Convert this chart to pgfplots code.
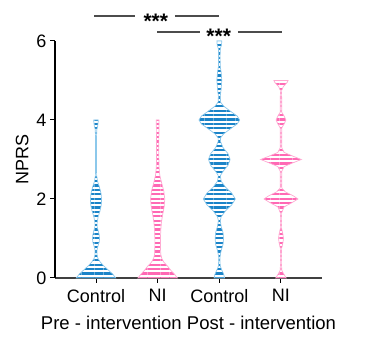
\documentclass[border=0pt]{standalone}
\usepackage{fontspec}
\setmainfont{Liberation Sans}
\usepackage{pgfplots}
\pgfplotsset{compat=1.18}
\usepackage{pgfplotstable}
\usepgfplotslibrary{fillbetween}
\usetikzlibrary{patterns.meta}
\definecolor{vblue}{RGB}{27,132,200}
\definecolor{vbluel}{RGB}{140,200,235}
\definecolor{vpink}{RGB}{255,105,180}
\definecolor{vpinkl}{RGB}{255,170,210}

\pgfplotstableread{
y w
0 0.32
0.1 0.27
0.2 0.2
0.3 0.13
0.4 0.07
0.5 0.03
0.6 0.015
0.7 0.015
0.8 0.03
0.9 0.05
1.0 0.058
1.1 0.05
1.2 0.035
1.3 0.018
1.4 0.018
1.55 0.035
1.7 0.065
1.85 0.085
2.0 0.09
2.15 0.08
2.3 0.055
2.45 0.025
2.6 0.01
3.0 0.008
3.5 0.008
3.75 0.012
3.85 0.028
3.95 0.035
4.0 0.035
}\vA

\pgfplotstableread{
y w
0 0.32
0.1 0.27
0.2 0.21
0.3 0.16
0.4 0.1
0.5 0.065
0.6 0.05
0.8 0.045
1.0 0.045
1.2 0.05
1.4 0.06
1.6 0.08
1.8 0.105
2.0 0.115
2.2 0.1
2.4 0.065
2.6 0.035
2.8 0.022
3.2 0.018
3.6 0.02
3.9 0.022
4.0 0.022
}\vB

\pgfplotstableread{
y w
0 0.085
0.1 0.07
0.2 0.04
0.3 0.015
0.45 0.01
0.55 0.012
0.7 0.03
0.85 0.06
1.0 0.068
1.15 0.06
1.3 0.03
1.45 0.015
1.55 0.03
1.7 0.1
1.85 0.2
2.0 0.26
2.15 0.2
2.3 0.1
2.45 0.03
2.55 0.02
2.6 0.02
2.7 0.06
2.85 0.14
3.0 0.175
3.15 0.14
3.3 0.06
3.45 0.02
3.55 0.02
3.65 0.07
3.8 0.2
3.9 0.29
4.0 0.33
4.1 0.29
4.2 0.2
4.35 0.07
4.45 0.02
4.6 0.015
4.8 0.03
5.0 0.04
5.2 0.03
5.35 0.015
5.6 0.012
5.8 0.015
5.9 0.035
6.0 0.04
}\vC

\pgfplotstableread{
y w
0 0.085
0.1 0.045
0.2 0.012
0.3 0.01
0.75 0.01
0.88 0.03
1.0 0.04
1.12 0.03
1.25 0.01
1.65 0.01
1.8 0.05
1.9 0.17
2.0 0.275
2.08 0.2
2.18 0.07
2.28 0.012
2.7 0.012
2.82 0.05
2.92 0.2
3.0 0.33
3.08 0.2
3.18 0.05
3.3 0.012
3.8 0.012
3.9 0.05
4.0 0.08
4.1 0.05
4.2 0.012
4.75 0.01
4.85 0.04
4.95 0.1
5.0 0.115
}\vD

\begin{document}
\begin{tikzpicture}
\begin{axis}[
  width=267pt, height=237pt, scale only axis,
  xmin=-0.665, xmax=3.665, ymin=0, ymax=6,
  axis x line*=bottom, axis y line*=left,
  x axis line style={draw=black!75, line width=1.4pt, -},
  y axis line style={draw=black, line width=1.1pt, -},
  xtick={0,1,2,3}, xticklabels={Control,NI,Control,NI},
  ytick={0,2,4,6},
  tick align=outside, major tick length=5pt,
  tick style={black, line width=1pt},
  xlabel={Pre - intervention Post - intervention},
  ylabel={NPRS},
  xticklabel style={yshift=-3pt},
  xlabel style={yshift=-6pt, font=\fontsize{18.5}{21}\selectfont},
  ylabel style={yshift=1pt, font=\fontsize{18}{21}\selectfont},
  clip=false,
  ticklabel style={font=\fontsize{18}{21}\selectfont},
  /pgf/number format/assume math mode=true,
]
\path ([xshift=-55pt, yshift=-66pt]rel axis cs:0,0) rectangle ([xshift=55pt, yshift=41pt]rel axis cs:1,1);

\addplot[draw=none, name path=A1] table[x expr=0+\thisrow{w}, y=y]{\vA};
\addplot[draw=none, name path=A2] table[x expr=0-\thisrow{w}, y=y]{\vA};
\addplot[draw=vbluel, line width=0.7pt, pattern={Lines[angle=0,distance=4.4pt,line width=2.2pt]}, pattern color=vblue] fill between[of=A1 and A2, reverse=true];

\addplot[draw=none, name path=B1] table[x expr=1+\thisrow{w}, y=y]{\vB};
\addplot[draw=none, name path=B2] table[x expr=1-\thisrow{w}, y=y]{\vB};
\addplot[draw=vpinkl, line width=0.7pt, pattern={Lines[angle=0,distance=4.4pt,line width=2.2pt]}, pattern color=vpink] fill between[of=B1 and B2, reverse=true];

\addplot[draw=none, name path=C1] table[x expr=2+\thisrow{w}, y=y]{\vC};
\addplot[draw=none, name path=C2] table[x expr=2-\thisrow{w}, y=y]{\vC};
\addplot[draw=vbluel, line width=0.7pt, pattern={Lines[angle=0,distance=4.4pt,line width=2.2pt]}, pattern color=vblue] fill between[of=C1 and C2, reverse=true];

\addplot[draw=none, name path=D1] table[x expr=3+\thisrow{w}, y=y]{\vD};
\addplot[draw=none, name path=D2] table[x expr=3-\thisrow{w}, y=y]{\vD};
\addplot[draw=vpinkl, line width=0.7pt, pattern={Lines[angle=0,distance=4.4pt,line width=2.2pt]}, pattern color=vpink] fill between[of=D1 and D2, reverse=true];

% significance bars
\addplot[black!70, line width=1.4pt] coordinates {(-0.03,6.63) (0.63,6.63)};
\addplot[black!70, line width=1.4pt] coordinates {(1.28,6.63) (2.0,6.63)};
\addplot[black!70, line width=1.4pt] coordinates {(0.99,6.23) (1.69,6.23)};
\addplot[black!70, line width=1.4pt] coordinates {(2.30,6.23) (3.02,6.23)};
\node[anchor=base, inner sep=0pt, font=\fontsize{21}{22}\selectfont\bfseries] at ([yshift=-12pt]axis cs:0.97,6.63) {***};
\node[anchor=base, inner sep=0pt, font=\fontsize{21}{22}\selectfont\bfseries] at ([yshift=-12pt]axis cs:1.99,6.23) {***};
\end{axis}
\end{tikzpicture}
\end{document}
